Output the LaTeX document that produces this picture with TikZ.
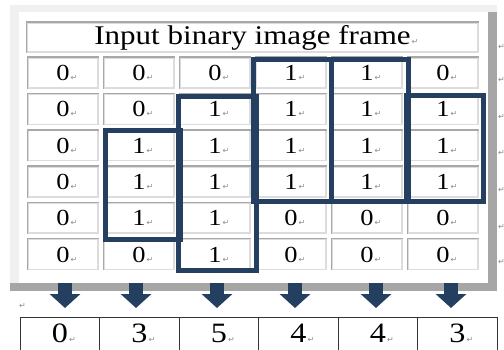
\documentclass[tikz,border=0pt]{standalone}
\usepackage{fontspec}
\setmainfont[FakeStretch=1.15]{Liberation Serif}
\newfontfamily\symfont{DejaVu Sans}
\usepackage{tikz}
\usetikzlibrary{arrows.meta, positioning}
\definecolor{navy}{HTML}{243F60}
\definecolor{panelgray}{HTML}{F0F0F0}
\definecolor{shadowgray}{HTML}{A6A6A6}
\definecolor{cellgray}{HTML}{DCDCDC}
\definecolor{celldark}{HTML}{A8A8A8}
\definecolor{retgray}{HTML}{8C8C8C}
\newcommand{\ret}{{\symfont\fontsize{8}{8}\selectfont\color{retgray}↵}}
\newcommand{\mk}{\rlap{\kern1pt\ret}}
\tikzset{
  cellbox/.style = {draw=cellgray, line width=1.5pt, fill=white, inner sep=0pt,
                    minimum width=70pt, minimum height=30pt,
                    font=\fontsize{23}{23}\selectfont},
  celledge/.style = {draw=celldark, line width=1.5pt},
  runbox/.style = {draw=navy, line width=5pt},
  outcell/.style = {draw=black!80, line width=1pt, anchor=north, inner xsep=0pt,
                    inner ysep=6pt, text height=19pt, text depth=30pt,
                    minimum width=79.5pt, font=\fontsize{28}{28}\selectfont},
  downarrow/.style = {draw=navy, line width=14pt, -{Triangle[width=30pt,length=14pt]}},
  retmark/.style = {anchor=west, inner sep=0pt}
}

\begin{document}
\begin{tikzpicture}[x=1pt, y=-1pt]
  \clip (0,0) rectangle (504,350);
  \fill[white] (0,0) rectangle (504,350);

  % frame panel
  \fill[panelgray] (10,5) rectangle (497,283);
  \fill[white] (19,12) rectangle (488,283);
  \fill[shadowgray] (488,12) rectangle (497,291);
  \fill[shadowgray] (10,283) rectangle (497,291);

  % title
  \node [cellbox, minimum width=451pt, minimum height=29pt,
         font=\fontsize{27}{27}\selectfont] (title) at (252.5,37.5)
        {Input binary image frame\mk};
  \draw [celledge] (title.south west) -- (title.north west) -- (title.north east);

  % binary cells
  \foreach \row [count=\r] in {{0,0,0,1,1,0},{0,0,1,1,1,1},{0,1,1,1,1,1},
                               {0,1,1,1,1,1},{0,1,1,0,0,0},{0,0,1,0,0,0}} {
    \foreach \v [count=\c] in \row {
      \node [cellbox] (c\r\c) at ({63+76*(\c-1)}, {73+36.3*(\r-1)}) {\v\mk};
      \draw [celledge] (c\r\c.south west) -- (c\r\c.north west) -- (c\r\c.north east);
    }
  }

  % runs of ones
  \draw [runbox] (105.5,131) rectangle (180,239.5);
  \draw [runbox] (178.5,97) rectangle (256,270.5);
  \draw [runbox] (253.5,59.5) rectangle (331,201.5);
  \draw [runbox] (331,59.5) rectangle (408.5,201.5);
  \draw [runbox] (406,95.5) rectangle (483.5,201.5);

  % paragraph marks
  \foreach \y in {47,80,117,153,190,227,262}
    \node [retmark] at (498,\y) {\ret};
  \node [retmark] at (19,306) {\ret};

  % output counts
  \foreach \v [count=\c] in {0,3,5,4,4,3}
    \node [outcell] (o\c) at ({60+79.5*(\c-1)}, 317) {\v\mk};

  % arrows
  \foreach \x [count=\c] in {65,136,217,295,376,451} {
    \coordinate (t\c) at (\x,283);
    \coordinate (b\c) at (\x,308);
    \draw [downarrow] (t\c) -- (b\c);
  }
\end{tikzpicture}
\end{document}
